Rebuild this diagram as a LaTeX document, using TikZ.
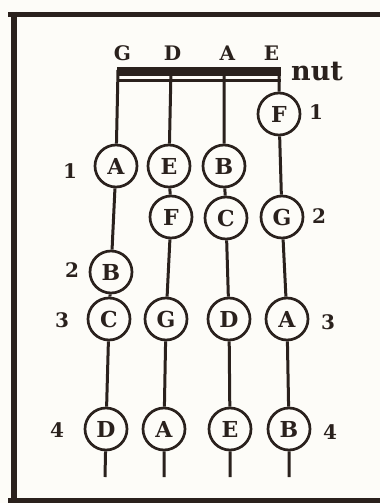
\documentclass[tikz,border=0pt]{standalone}
\usepackage{fontspec}
\setmainfont{DejaVu Serif}
\definecolor{ink}{HTML}{2A211D}
\definecolor{paper}{HTML}{FDFCF8}
\begin{document}
\begin{tikzpicture}[x=1pt,y=-1pt]
\tikzset{
  note/.style={circle,draw=ink,line width=2.7pt,minimum size=42pt,inner sep=0pt,
    font=\bfseries\fontsize{22}{22}\selectfont,text=ink},
  strg/.style={draw=ink,line width=3pt},
  lbl/.style={font=\bfseries\fontsize{20}{20}\selectfont,text=ink,inner sep=0pt},
  frame/.style={draw=ink,line width=5pt},
}
\useasboundingbox (0,0) rectangle (380,503);
\fill[paper] (0,0) rectangle (380,503);
% frame
\draw[frame] (8,14.5) -- (380,14.5);
\draw[frame,line width=6pt] (13.5,12) -- (13.5,500.5);
\draw[frame] (8,500.5) -- (380,500.5);
% string names
\node[lbl] (tG) at (122.5,53.5) {G};
\node[lbl] (tD) at (172.5,53.5) {D};
\node[lbl] (tA) at (227.5,53.5) {A};
\node[lbl] (tE) at (271.5,53.5) {E};
\node[lbl,font=\bfseries\fontsize{27}{27}\selectfont,anchor=base west] (nut) at (291,80) {nut};
% nut
\fill[ink] (116.5,67.5) rectangle (280.5,75.5);
\draw[ink,line width=3pt] (116.5,80.5) -- (280.5,80.5);
% string tops and ends
\coordinate (gT) at (118,70);
\coordinate (dT) at (171,70);
\coordinate (aT) at (224,70);
\coordinate (eT) at (279,70);
\coordinate (gEnd) at (105,477);
\coordinate (dEnd) at (164,477);
\coordinate (aEnd) at (230,477);
\coordinate (eEnd) at (289,477);
% notes: G string
\node[note] (gA) at (116,166) {A};
\node[note] (gB) at (111,272) {B};
\node[note] (gC) at (109,319) {C};
\node[note] (gD) at (106,429) {D};
% D string
\node[note] (dE) at (169,166) {E};
\node[note] (dF) at (171,217) {F};
\node[note] (dG) at (166,319) {G};
\node[note] (dA) at (164,429) {A};
% A string
\node[note] (aB) at (224,166) {B};
\node[note] (aC) at (226,218) {C};
\node[note] (aD) at (229,319) {D};
\node[note] (aE) at (230,429) {E};
% E string
\node[note] (eF) at (279,114) {F};
\node[note] (eG) at (282,217) {G};
\node[note] (eA) at (287,319) {A};
\node[note] (eB) at (289,429) {B};
% strings
\draw[strg] (gT) -- (gA) -- (gB) -- (gC) -- (gD) -- (gEnd);
\draw[strg] (dT) -- (dE) -- (dF) -- (dG) -- (dA) -- (dEnd);
\draw[strg] (aT) -- (aB) -- (aC) -- (aD) -- (aE) -- (aEnd);
\draw[strg] (eT) -- (eF) -- (eG) -- (eA) -- (eB) -- (eEnd);
% finger numbers
\node[lbl] (f1L) at (70,171) {1};
\node[lbl] (f1R) at (316,112) {1};
\node[lbl] (f2R) at (319,216) {2};
\node[lbl] (f2L) at (72,270) {2};
\node[lbl] (f3L) at (62,320) {3};
\node[lbl] (f3R) at (328,322) {3};
\node[lbl] (f4L) at (57,430) {4};
\node[lbl] (f4R) at (330,432) {4};
\end{tikzpicture}
\end{document}
